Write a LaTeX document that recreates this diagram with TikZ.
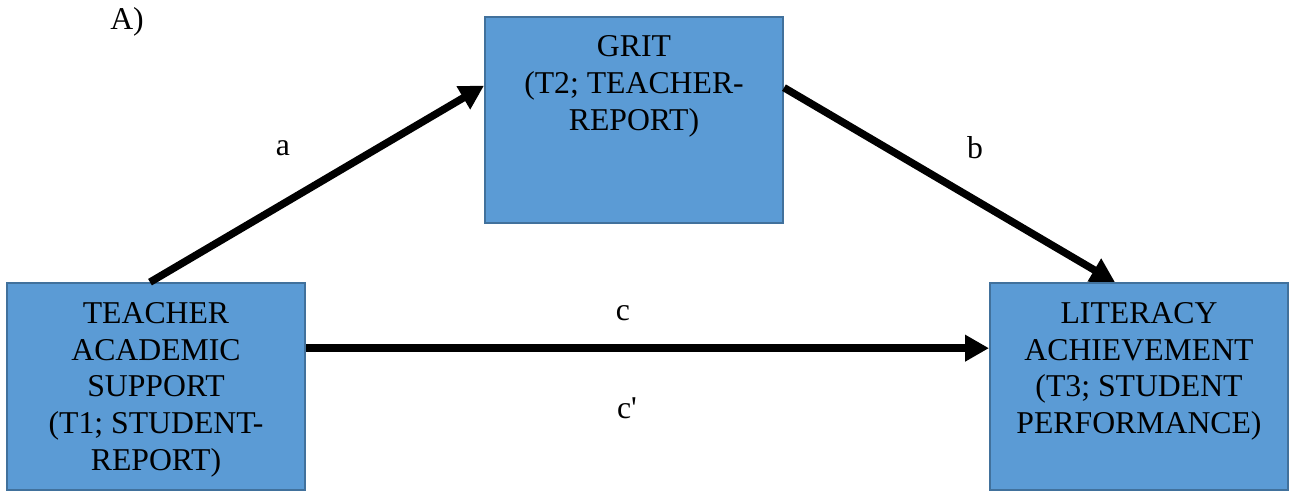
\documentclass[tikz,border=0pt]{standalone}
\usepackage{fontspec}
\setmainfont{Liberation Serif}
\usetikzlibrary{arrows.meta,calc}
\definecolor{boxfill}{HTML}{5B9BD5}
\definecolor{boxedge}{HTML}{41719C}
\begin{document}
\begin{tikzpicture}[x=0.75pt,y=-0.75pt,
  varbox/.style={draw=boxedge,fill=boxfill,line width=1.5pt,minimum width=223.5pt,minimum height=155pt,inner sep=0pt},
  boxtext/.style={anchor=north,align=center,inner sep=0pt,font=\fontsize{23.8}{27.5}\selectfont},
  lbl/.style={inner sep=0pt,font=\fontsize{23.8}{27.5}\selectfont},
  path arrow/.style={line width=5.6pt,-{Triangle[length=18pt,width=19pt]}}]
\useasboundingbox (0,0) rectangle (1290,496);
\node[varbox] (t) at (156,386.5) {};
\node[varbox] (g) at (634,120) {};
\node[varbox] (l) at (1139,386.5) {};
\node[boxtext] (tt) at ($(t.north)+(0,20)$) {TEACHER\\ACADEMIC\\SUPPORT\\(T1; STUDENT-\\REPORT)};
\node[boxtext] (gt) at ($(g.north)+(0,20)$) {GRIT\\(T2; TEACHER-\\REPORT)};
\node[boxtext] (lt) at ($(l.north)+(0,20)$) {LITERACY\\ACHIEVEMENT\\(T3; STUDENT\\PERFORMANCE)};
\coordinate (as) at ($(t.north)+(-6,0)$);
\coordinate (ae) at ($(g.north west)+(0,70)$);
\coordinate (bs) at ($(g.north east)+(0,72)$);
\coordinate (be) at ($(l.north)+(-24,0)$);
\coordinate (cs) at ($(t.north east)+(0,66)$);
\coordinate (ce) at ($(l.north west)+(0,66)$);
\draw[path arrow] (as) -- (ae);
\draw[path arrow] (bs) -- (be);
\draw[path arrow] (cs) -- (ce);
\node[lbl] (A) at (127,22) {A)};
\node[lbl] (la) at (283,148) {a};
\node[lbl] (lb) at (975,148) {b};
\node[lbl] (lc) at (623,313) {c};
\node[lbl] (lc2) at (627,408) {c\textquotesingle};
\end{tikzpicture}
\end{document}
